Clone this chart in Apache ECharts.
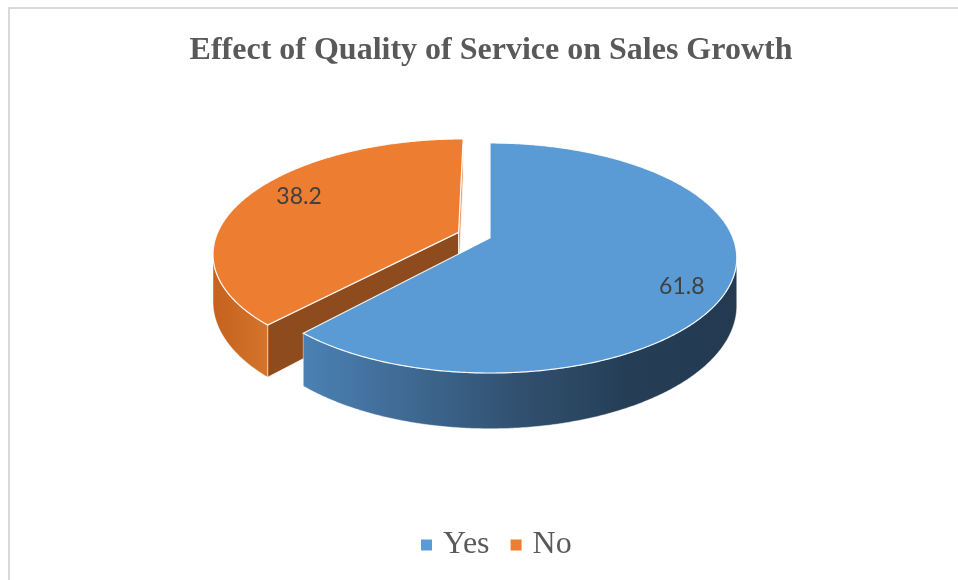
<!DOCTYPE html>
<html>
<head>
<meta charset="utf-8">
<script src="https://cdn.jsdelivr.net/npm/echarts@6/dist/echarts.min.js"></script>
<style>
  html, body { margin: 0; padding: 0; background: #ffffff; }
  #chart { width: 958px; height: 580px; }
</style>
</head>
<body>
<div id="chart"></div>
<script>
// ---- data ----
const titleText = 'Effect of Quality of Service on Sales Growth';
const categories = ['Yes', 'No'];
const values = [61.8, 38.2];

// ---- look ----
const topColors = ['#5b9bd5', '#ed7d31'];
const wallStops = [
  [[0, '#4b81b4'], [0.5, '#31506f'], [0.75, '#253e56'], [1, '#233a51']],
  [[0, '#c4621e'], [1, '#d5742d']]
];
const edgeColors = [['#2f5f8e', '#2f5f8e'], ['#8d4b1e', '#e59a62']]; // [start cut, end cut]
const explodeBy = [0, 34];

// 3D disc geometry (world units; the disc is tilted and seen in perspective)
const geo = { cx: 490, cy: 238, R: 243, tilt: 0.459, depth: 46, camDist: 5.75 };
const D = geo.camDist * geo.R;

const total = values.reduce((a, b) => a + b, 0);
const startAngles = [];
values.reduce((acc, v) => { startAngles.push(acc / total * 360); return acc + v; }, 0);

function proj(x, z, d) {
  const s = D / (D - z);
  return [geo.cx + x * s, geo.cy + (z * geo.tilt + d) * s];
}
function rim(theta, ox, oz, r) {
  const t = theta * Math.PI / 180;
  return [ox + r * Math.sin(t), oz - r * Math.cos(t)];
}

function renderSlice(i, api) {
  const v = api.value(0);
  const a0 = startAngles[i];
  const a1 = a0 + v / total * 360;
  const mid = (a0 + a1) / 2 * Math.PI / 180;
  const ox = explodeBy[i] * Math.sin(mid);
  const oz = -explodeBy[i] * Math.cos(mid);
  const R = geo.R, h = geo.depth;
  const children = [];

  // cut faces along the two radii
  [[a0, -1], [a1, 1]].forEach(([a, sign], k) => {
    const t = a * Math.PI / 180;
    const nx = sign * Math.cos(t), nz = sign * Math.sin(t);
    const m = rim(a, ox, oz, R / 2);
    const dot = nx * (-m[0]) + nz * (D - m[1]);
    if (dot > 0.5) {
      const e = rim(a, ox, oz, R);
      children.push({
        type: 'polygon',
        shape: { points: [proj(ox, oz, 0), proj(e[0], e[1], 0), proj(e[0], e[1], h), proj(ox, oz, h)] },
        style: { fill: edgeColors[i][k], stroke: 'rgba(255,255,255,0.75)', lineWidth: 1 }
      });
    }
  });

  // outer curved wall, only where it faces the viewer
  const runs = [];
  let cur = null;
  for (let a = a0; a <= a1 + 1e-9; a += 0.5) {
    const t = a * Math.PI / 180;
    const vis = -R - ox * Math.sin(t) - (D - oz) * Math.cos(t) > 0;
    if (vis) { if (!cur) { cur = []; runs.push(cur); } cur.push(Math.min(a, a1)); }
    else cur = null;
  }
  runs.forEach(run => {
    const topPts = run.map(a => { const p = rim(a, ox, oz, R); return proj(p[0], p[1], 0); });
    const botPts = run.map(a => { const p = rim(a, ox, oz, R); return proj(p[0], p[1], h); }).reverse();
    const pts = topPts.concat(botPts);
    const xs = pts.map(p => p[0]);
    const xMin = Math.min.apply(null, xs), xMax = Math.max.apply(null, xs);
    children.push({
      type: 'polygon',
      shape: { points: pts },
      style: {
        fill: {
          type: 'linear', x: xMin, y: 0, x2: xMax, y2: 0, global: true,
          colorStops: wallStops[i].map(([o, c]) => ({ offset: o, color: c }))
        },
        stroke: 'rgba(255,255,255,0.55)', lineWidth: 0.8
      }
    });
  });

  // top face
  const face = [proj(ox, oz, 0)];
  for (let a = a0; a <= a1 + 1e-9; a += 0.5) {
    const p = rim(Math.min(a, a1), ox, oz, R);
    face.push(proj(p[0], p[1], 0));
  }
  children.push({
    type: 'polygon',
    shape: { points: face },
    style: { fill: topColors[i], stroke: 'rgba(255,255,255,0.9)', lineWidth: 1.2 }
  });

  // value label on the top face
  const lp = rim((a0 + a1) / 2, ox, oz, R * 0.78);
  const s = D / (D - lp[1]);
  children.push({
    type: 'text',
    style: {
      text: String(v),
      x: geo.cx + lp[0] * s + 6,
      y: geo.cy + (lp[1] * geo.tilt * 1.3 + 5) * s,
      align: 'center', verticalAlign: 'middle',
      fill: '#404040', font: '23px Lato'
    }
  });

  return { type: 'group', children };
}

// slices whose middle points toward the viewer are painted last
const frontness = values.map((v, i) => {
  const mid = (startAngles[i] + v / total * 180) * Math.PI / 180;
  return -Math.cos(mid);
});
const order = frontness.map((f, i) => i).sort((a, b) => frontness[a] - frontness[b]);

const chart = echarts.init(document.getElementById('chart'), null, { renderer: 'canvas' });
chart.setOption({
  animation: false,
  backgroundColor: '#ffffff',
  title: {
    text: titleText,
    left: 486, top: 30, textAlign: 'center',
    textStyle: { fontFamily: 'Liberation Serif', fontWeight: 'bold', fontSize: 32, color: '#595959' }
  },
  legend: {
    data: categories.map((c, i) => ({ name: c, itemStyle: { color: topColors[i] } })),
    left: 416, bottom: 14,
    icon: 'rect', itemWidth: 11, itemHeight: 11, itemGap: 21,
    textStyle: { fontFamily: 'Liberation Serif', fontSize: 32, color: '#595959', padding: [0, 0, 0, 6] }
  },
  graphic: [
    { type: 'line', shape: { x1: 8, y1: 8, x2: 958, y2: 8 }, style: { stroke: '#d9d9d9', lineWidth: 2 }, silent: true },
    { type: 'line', shape: { x1: 9, y1: 8, x2: 9, y2: 580 }, style: { stroke: '#d9d9d9', lineWidth: 2 }, silent: true }
  ],
  series: categories.map((name, i) => ({
    type: 'custom',
    name,
    coordinateSystem: 'none',
    z: 2 + order.indexOf(i),
    itemStyle: { color: topColors[i] },
    data: [values[i]],
    renderItem: (params, api) => renderSlice(i, api)
  }))
});
</script>
</body>
</html>
